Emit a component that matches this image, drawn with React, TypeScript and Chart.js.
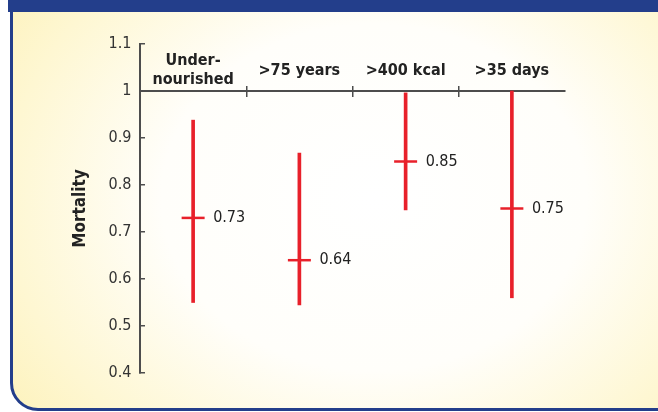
import { useEffect, useRef } from 'react';
import { Chart, registerables } from 'chart.js';

Chart.register(...registerables);

const categories: (string | string[])[] = [['Under-', 'nourished'], '>75 years', '>400 kcal', '>35 days'];
const lowValues = [0.55, 0.545, 0.747, 0.56];
const highValues = [0.938, 0.868, 0.996, 1.0];
const meanValues = [0.73, 0.64, 0.85, 0.75];
const yMin = 0.4;
const yMax = 1.1;
const yStep = 0.1;
const axisTitle = 'Mortality';

const RED = '#E8202A';
const AXIS = '#4d4d4d';
const FONT = '"Liberation Sans Narrow", "Arial Narrow", "DejaVu Sans Condensed", sans-serif';

const valueLabelPlugin = {
  id: 'valueLabels',
  afterDatasetsDraw(chart: any) {
    const meta = chart.getDatasetMeta(1);
    const ctx = chart.ctx;
    ctx.save();
    ctx.font = `16px ${FONT}`;
    ctx.fillStyle = '#222';
    ctx.textAlign = 'left';
    ctx.textBaseline = 'middle';
    meta.data.forEach((el: any, i: number) => {
      ctx.fillText(meanValues[i].toFixed(2), el.x + 20, el.y);
    });
    ctx.restore();
  },
};

export default function App() {
  const ref = useRef<HTMLCanvasElement>(null);
  useEffect(() => {
    document.body.style.margin = '0';
    const chart = new Chart(ref.current!, {
      type: 'bar',
      data: {
        labels: categories,
        datasets: [
          {
            type: 'bar',
            data: categories.map((_, i) => [lowValues[i], highValues[i]]) as any,
            backgroundColor: RED,
            borderWidth: 0,
            borderSkipped: false,
            barThickness: 3,
            xAxisID: 'x',
          },
          {
            type: 'line',
            data: meanValues,
            showLine: false,
            pointStyle: 'line',
            pointRadius: 11.5,
            pointBorderWidth: 2.5,
            pointBorderColor: RED,
            pointBackgroundColor: RED,
            xAxisID: 'x',
          } as any,
        ],
      },
      options: {
        responsive: false,
        animation: false,
        layout: { padding: { left: 71, top: 44, right: 93, bottom: 39 } },
        plugins: { legend: { display: false }, tooltip: { enabled: false } },
        scales: {
          y: {
            min: yMin,
            max: yMax,
            afterFit: (scale: any) => { scale.width = 69; },
            ticks: {
              stepSize: yStep,
              padding: 13.5,
              color: '#333',
              font: { family: FONT, size: 16 },
              callback: (v: any) => String(Math.round(Number(v) * 10) / 10),
            },
            grid: { drawOnChartArea: false, tickLength: -5, color: AXIS, lineWidth: 1.5 },
            border: { color: AXIS, width: 2 },
            title: {
              display: true,
              text: axisTitle,
              color: '#222',
              font: { family: FONT, size: 17, weight: 'bold' },
              padding: { top: -1, bottom: 0 },
            },
          },
          x: {
            type: 'category',
            position: { y: 1 } as any,
            offset: true,
            ticks: {
              maxRotation: 0,
              minRotation: 0,
              autoSkip: false,
              padding: -35,
              crossAlign: 'center',
              color: '#222',
              font: { family: FONT, size: 16, weight: 'bold' },
            },
            grid: {
              offset: true,
              drawOnChartArea: false,
              tickLength: 5,
              lineWidth: 1.5,
              color: (c: any) => (c.type === 'tick' && c.index > 0 ? AXIS : 'rgba(0,0,0,0)'),
            },
            border: { color: AXIS, width: 2 },
          },
          x2: {
            type: 'category',
            position: { y: 1 } as any,
            offset: true,
            ticks: { display: false },
            grid: {
              offset: true,
              drawOnChartArea: false,
              tickLength: -5,
              lineWidth: 1.5,
              color: (c: any) => (c.type === 'tick' && c.index > 0 ? AXIS : 'rgba(0,0,0,0)'),
            },
            border: { display: false },
          },
        },
      },
      plugins: [valueLabelPlugin],
    });
    return () => chart.destroy();
  }, []);

  return (
    <div style={{ position: 'fixed', left: 0, top: 0, width: 658, height: 412, overflow: 'hidden', background: '#fff' }}>
      <div
        style={{
          position: 'absolute', left: 10, top: 0, width: 700, height: 411,
          boxSizing: 'border-box', border: '3px solid #233E8B', borderBottomLeftRadius: 28,
          background: 'radial-gradient(ellipse 68% 95% at 52% 48%, #ffffff 0%, #fffefa 45%, #fef7d2 78%, #fdf1b6 100%)',
        }}
      />
      <div style={{ position: 'absolute', left: 8, top: 0, width: 650, height: 12, background: '#233E8B' }} />
      <canvas ref={ref} width={658} height={412} style={{ position: 'absolute', left: 0, top: 0 }} />
    </div>
  );
}
